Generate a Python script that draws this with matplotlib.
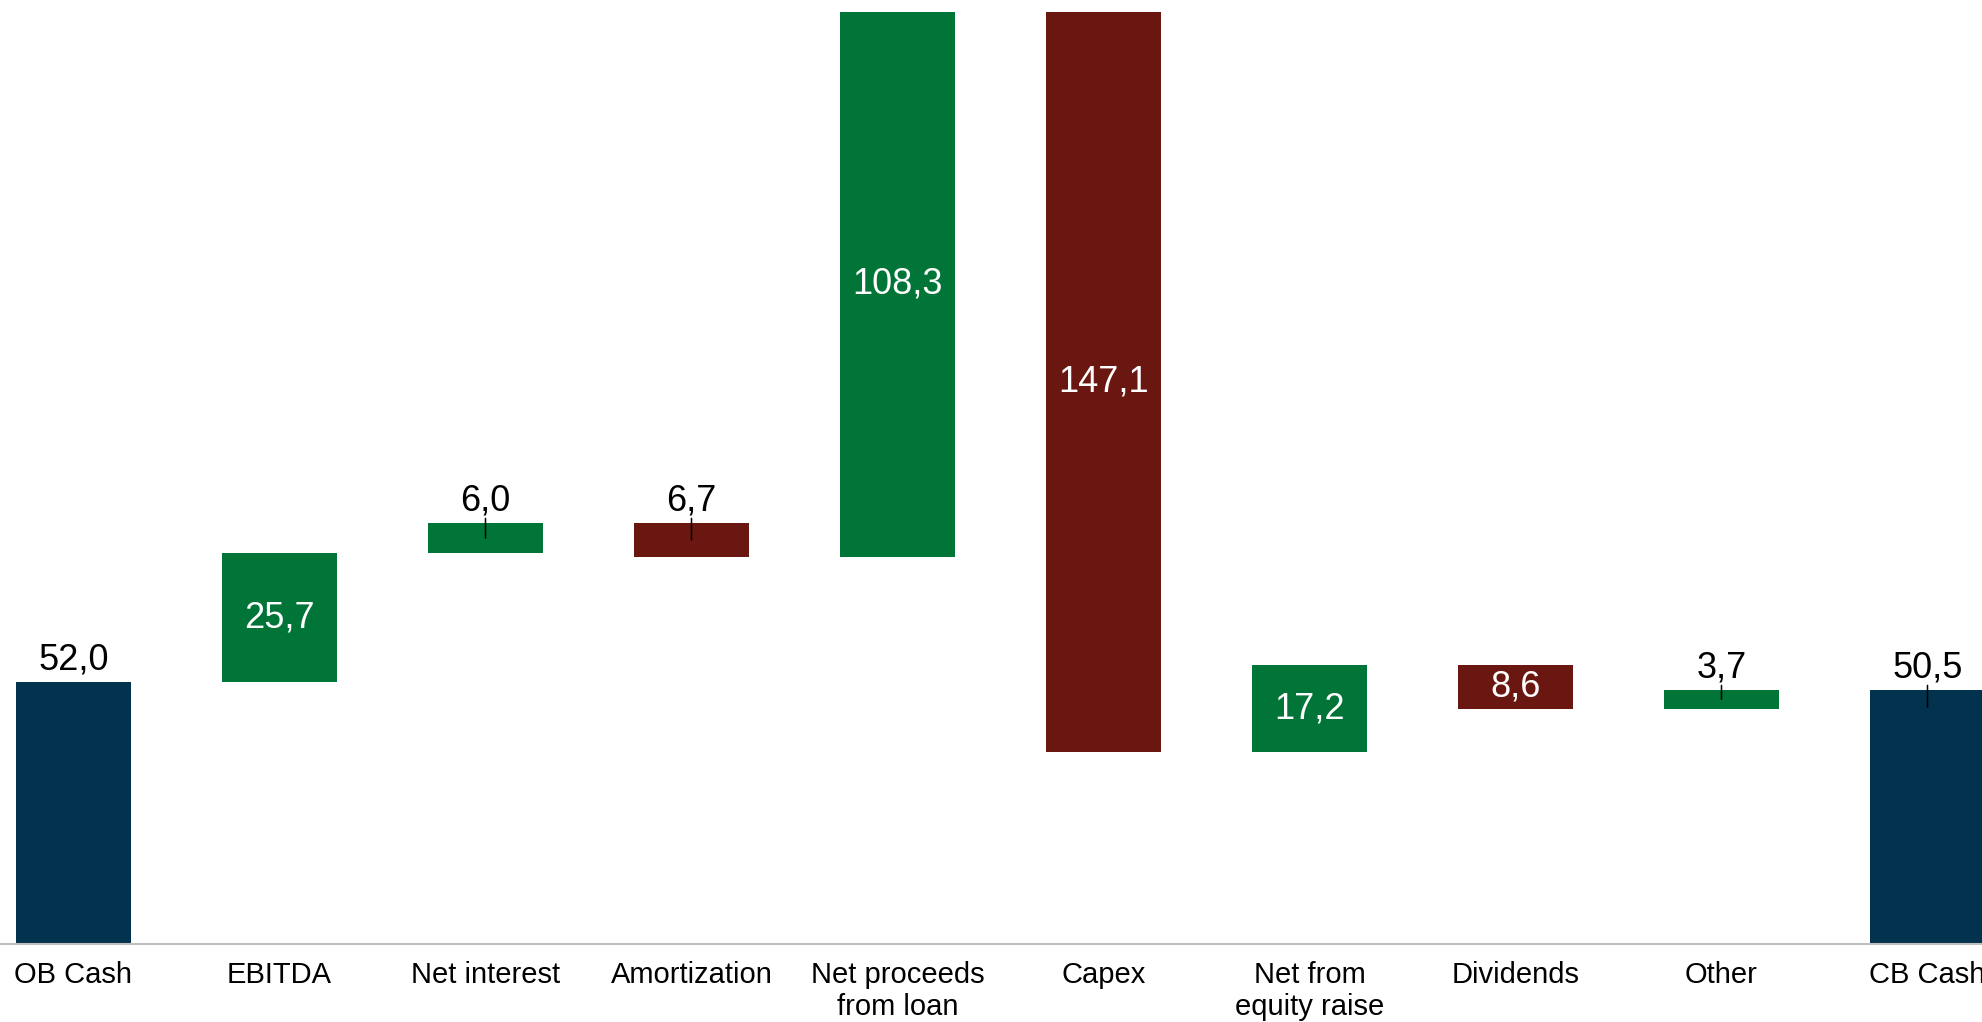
import numpy as np
import matplotlib
matplotlib.use("Agg")
import matplotlib.pyplot as plt
from matplotlib.transforms import offset_copy

plt.rcParams["font.family"] = ["Liberation Sans", "DejaVu Sans"]

# datos del puente de caja
categories = ["OB Cash", "EBITDA", "Net interest", "Amortization",
              "Net proceeds\nfrom loan", "Capex", "Net from\nequity raise",
              "Dividends", "Other", "CB Cash"]
opening_cash = 52.0
deltas = [25.7, 6.0, -6.7, 108.3, -147.1, 17.2, -8.6, 3.7]
closing_cash = 50.5

C_TOTAL = "#03324F"
C_UP = "#007537"
C_DOWN = "#6B1711"
C_AXIS = "#BFBFBF"

fig = plt.figure(figsize=(19.83, 10.22), dpi=100)
ax = fig.add_axes([0, 78 / 1022, 1, 944 / 1022])

x = np.arange(len(categories))
width = 0.558

starts = [0.0]
heights = [opening_cash]
colors = [C_TOTAL]
level = opening_cash
for d in deltas:
    starts.append(level if d >= 0 else level + d)
    heights.append(abs(d))
    colors.append(C_UP if d >= 0 else C_DOWN)
    level += d
starts.append(0.0)
heights.append(closing_cash)
colors.append(C_TOTAL)

ax.bar(x, heights, width, bottom=starts, color=colors, linewidth=0)

ax.set_xlim(-73.5 / 206, (1983 - 73.5) / 206)
ax.set_ylim(0, 944 / 5.03)
px_per_unit = 5.03

values = [opening_cash] + [abs(d) for d in deltas] + [closing_cash]
above_tr = offset_copy(ax.transData, fig=fig, x=0, y=9, units="points")
lead_top = offset_copy(ax.transData, fig=fig, x=0, y=3.3, units="points")
last = len(values) - 1
for i, (xi, b, h, v) in enumerate(zip(x, starts, heights, values)):
    txt = f"{v:.1f}".replace(".", ",")
    is_total = i == 0 or i == last
    top = b + h
    if not is_total and h >= 8:
        ax.text(xi, b + h / 2, txt, ha="center", va="center",
                color="white", fontsize=26)
    else:
        ax.text(xi, top, txt, ha="center", va="baseline", color="black",
                fontsize=26, transform=above_tr)
        if i > 0:
            end = top - min(h / 2, 17 / px_per_unit)
            ax.annotate("", xy=(xi, end), xycoords="data",
                        xytext=(xi, top), textcoords=lead_top,
                        arrowprops=dict(arrowstyle="-", color="black",
                                        lw=1.1, shrinkA=0, shrinkB=0))

ax.set_xticks(x)
ax.set_xticklabels(categories, fontsize=21)
ax.tick_params(axis="x", length=0, pad=12)
ax.tick_params(axis="y", left=False, labelleft=False)
for s in ["top", "right", "left"]:
    ax.spines[s].set_visible(False)
ax.spines["bottom"].set_color(C_AXIS)
ax.spines["bottom"].set_linewidth(1.5)

fig.savefig("out.png", dpi=100)
plt.close(fig)
